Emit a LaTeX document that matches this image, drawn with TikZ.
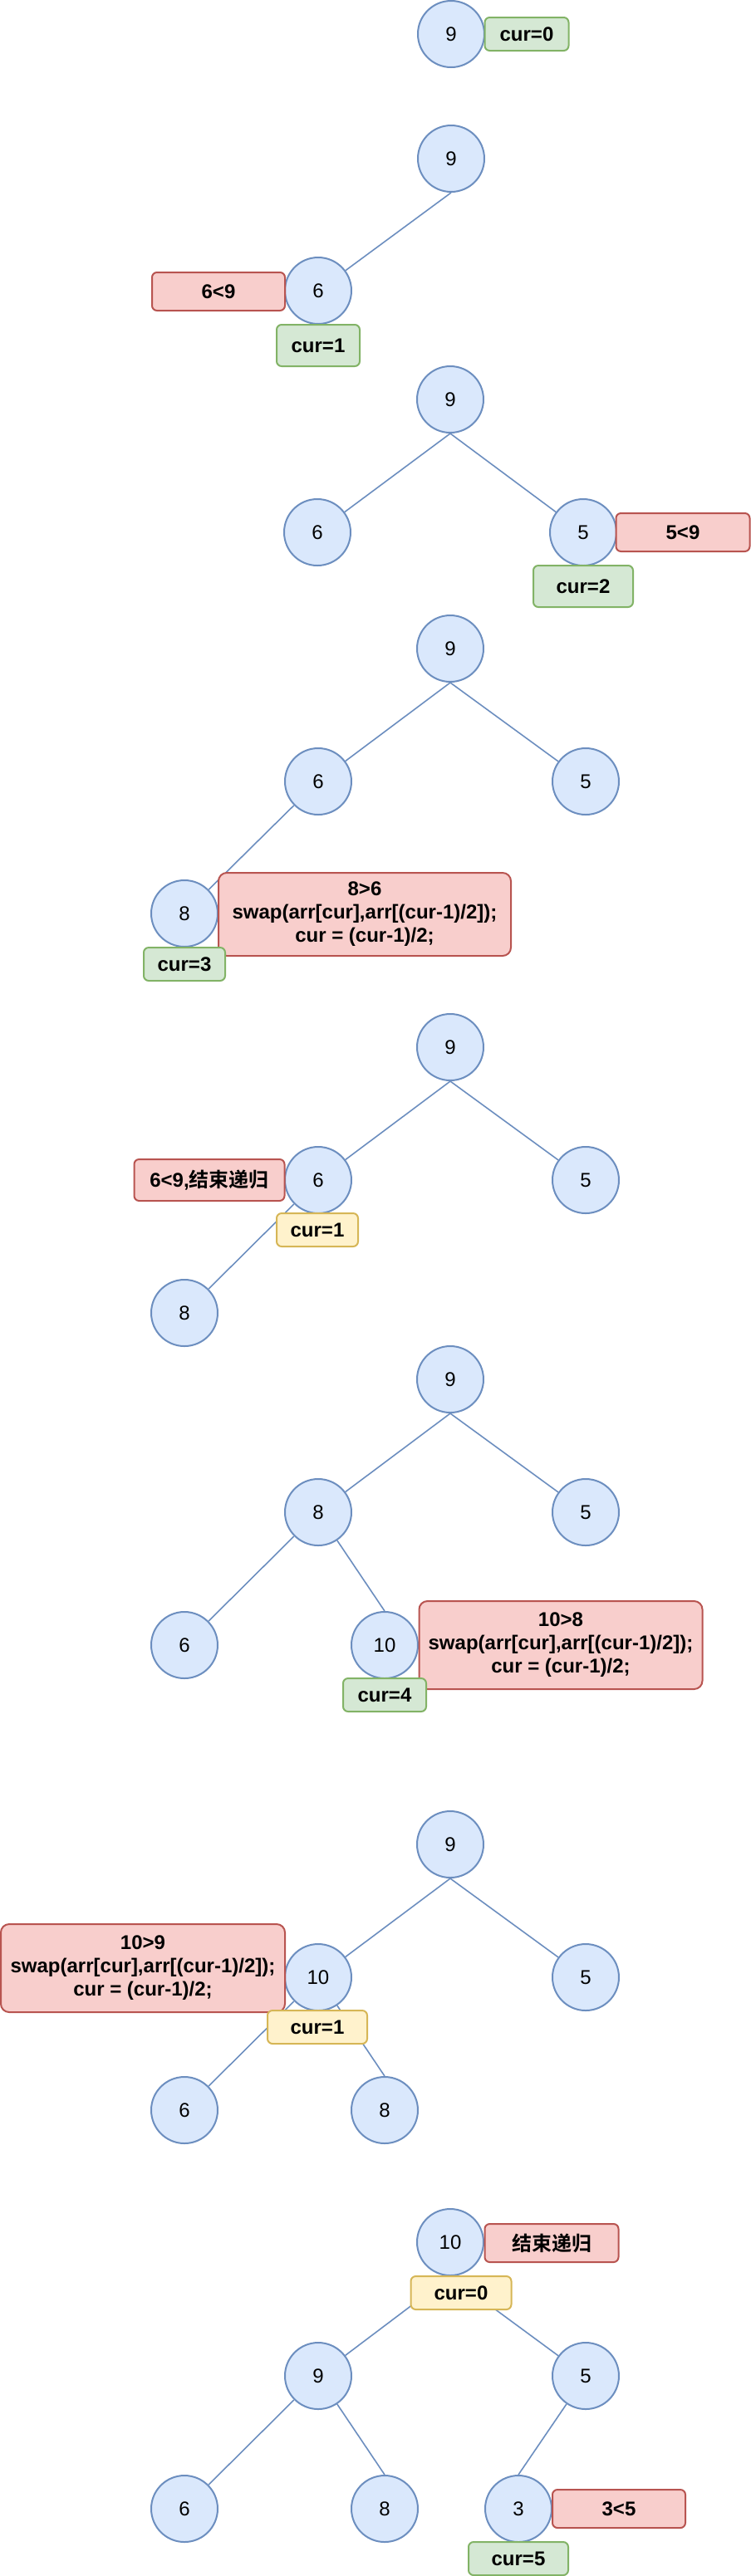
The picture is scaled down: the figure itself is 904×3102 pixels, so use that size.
\documentclass[tikz,border=0pt]{standalone}
\usepackage{fontspec}
\setmainfont{Liberation Sans}
\newfontfamily\cjk{Noto Sans CJK SC}[BoldFont={Noto Sans CJK SC Bold}]
\usepackage{tikz}
\usetikzlibrary{positioning}
\definecolor{nodefill}{HTML}{DAE8FC}
\definecolor{nodeline}{HTML}{6C8EBF}
\definecolor{redfill}{HTML}{F8CECC}
\definecolor{redline}{HTML}{B85450}
\definecolor{greenfill}{HTML}{D5E8D4}
\definecolor{greenline}{HTML}{82B366}
\definecolor{yellowfill}{HTML}{FFF2CC}
\definecolor{yellowline}{HTML}{D6B656}
\tikzset{heap vertex/.style={circle,draw=nodeline,fill=nodefill,line width=1pt,minimum size=40pt,inner sep=0pt,font=\fontsize{12}{14}\selectfont},
  note box/.style={rectangle,rounded corners=3pt,line width=1pt,inner sep=0pt,align=center,font=\bfseries\fontsize{12}{14}\selectfont},
  red note/.style={note box,draw=redline,fill=redfill},
  green cur/.style={note box,draw=greenline,fill=greenfill},
  yellow cur/.style={note box,draw=yellowline,fill=yellowfill},
  box size/.style 2 args={minimum width=#1,minimum height=#2},
  heap edge/.style={draw=nodeline,line width=0.8pt}}

\begin{document}
\begin{tikzpicture}[x=0.5pt,y=-0.5pt]
\useasboundingbox (0,0) rectangle (904,3102);

% Step 1: only the root
\node[heap vertex] (a9) at (543,41) {9};
\node[green cur, box size={50.5pt}{20pt}] (acur) at (634,41) {cur=0};

% Step 2: insert 6
\node[heap vertex] (b9) at (543,191) {9};
\node[heap vertex] (b6) at (383,350) {6};
\draw[heap edge] (b9.south) -- (b6);
\node[red note, box size={80pt}{23pt}] (bcmp) at (263,351) {6<9};
\node[green cur, box size={50pt}{25pt}] (bcur) at (383,416) {cur=1};

% Step 3: insert 5
\node[heap vertex] (c9) at (542,481) {9};
\node[heap vertex] (c6) at (382,641) {6};
\node[heap vertex] (c5) at (702,641) {5};
\draw[heap edge] (c9.south) -- (c6);
\draw[heap edge] (c9.south) -- (c5);
\node[red note, box size={80.5pt}{23pt}] (ccmp) at (822,641) {5<9};
\node[green cur, box size={60pt}{25pt}] (ccur) at (702,706) {cur=2};

% Step 4: insert 8, swap with 6
\node[heap vertex] (d9) at (542,781) {9};
\node[heap vertex] (d6) at (383,941) {6};
\node[heap vertex] (d5) at (705,941) {5};
\node[heap vertex] (d8) at (222,1100) {8};
\draw[heap edge] (d9.south) -- (d6);
\draw[heap edge] (d9.south) -- (d5);
\draw[heap edge] (d6) -- (d8);
\node[red note, rounded corners=5pt, box size={176pt}{50pt}] (dcmp) at (439,1101) {8>6\\swap(arr[cur],arr[(cur-1)/2]);\\cur = (cur-1)/2;};
\node[green cur, box size={49pt}{20pt}] (dcur) at (222,1161) {cur=3};

% Step 5: 6<9, stop
\node[heap vertex] (e9) at (542,1261) {9};
\node[heap vertex] (e6) at (383,1421) {6};
\node[heap vertex] (e5) at (705,1421) {5};
\node[heap vertex] (e8) at (222,1581) {8};
\draw[heap edge] (e9.south) -- (e6);
\draw[heap edge] (e9.south) -- (e5);
\draw[heap edge] (e6) -- (e8);
\node[red note, box size={90.5pt}{25pt}] (ecmp) at (252,1421) {6<9,{\cjk 结束递归}};
\node[yellow cur, box size={49pt}{20pt}] (ecur) at (382,1481) {cur=1};

% Step 6: insert 10, swap with 8
\node[heap vertex] (f9) at (542,1661) {9};
\node[heap vertex] (f8) at (383,1821) {8};
\node[heap vertex] (f5) at (705,1821) {5};
\node[heap vertex] (f6) at (222,1981) {6};
\node[heap vertex] (f10) at (463,1981) {10};
\draw[heap edge] (f9.south) -- (f8);
\draw[heap edge] (f9.south) -- (f5);
\draw[heap edge] (f8) -- (f6);
\draw[heap edge] (f8) -- (f10.north);
\node[red note, rounded corners=5pt, box size={170.5pt}{53pt}] (fcmp) at (675,1981) {10>8\\swap(arr[cur],arr[(cur-1)/2]);\\cur = (cur-1)/2;};
\node[green cur, box size={50pt}{20pt}] (fcur) at (463,2041) {cur=4};

% Step 7: swap 10 with 9
\node[heap vertex] (g9) at (542,2221) {9};
\node[heap vertex] (g10) at (383,2381) {10};
\node[heap vertex] (g5) at (705,2381) {5};
\node[heap vertex] (g6) at (222,2541) {6};
\node[heap vertex] (g8) at (463,2541) {8};
\draw[heap edge] (g9.south) -- (g10);
\draw[heap edge] (g9.south) -- (g5);
\draw[heap edge] (g10) -- (g6);
\draw[heap edge] (g10) -- (g8.north);
\node[red note, rounded corners=5pt, box size={171pt}{53pt}] (gcmp) at (172,2370) {10>9\\swap(arr[cur],arr[(cur-1)/2]);\\cur = (cur-1)/2;};
\node[yellow cur, box size={60pt}{20pt}] (gcur) at (382,2441) {cur=1};

% Step 8: 10 on top, then insert 3
\node[heap vertex] (h10) at (542,2700) {10};
\node[heap vertex] (h9) at (383,2861) {9};
\node[heap vertex] (h5) at (705,2861) {5};
\node[heap vertex] (h6) at (222,3021) {6};
\node[heap vertex] (h8) at (463,3021) {8};
\node[heap vertex] (h3) at (624,3021) {3};
\draw[heap edge] (h10.south) -- (h9);
\draw[heap edge] (h10.south) -- (h5);
\draw[heap edge] (h9) -- (h6);
\draw[heap edge] (h9) -- (h8.north);
\draw[heap edge] (h5) -- (h3.north);
\node[red note, box size={80.5pt}{23pt}] (hend) at (664,2701) {\cjk 结束递归};
\node[yellow cur, box size={60.5pt}{20pt}] (hcur) at (555,2761) {cur=0};
\node[red note, box size={80pt}{23pt}] (hcmp) at (745,3021) {3<5};
\node[green cur, box size={60pt}{20pt}] (hcur5) at (624,3081) {cur=5};

\end{tikzpicture}
\end{document}
